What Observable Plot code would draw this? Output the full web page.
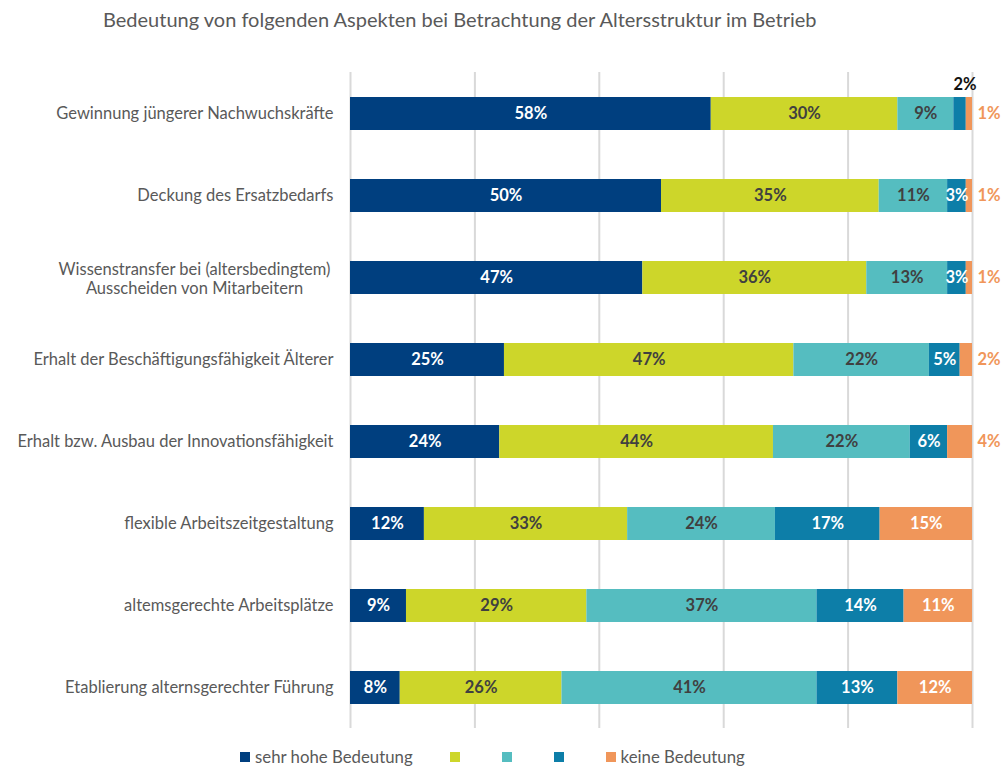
<!DOCTYPE html>
<html><head><meta charset="utf-8">
<script src="https://cdn.jsdelivr.net/npm/d3@7"></script>
<script src="https://cdn.jsdelivr.net/npm/@observablehq/plot@0.6"></script>
<style>
body{margin:0;background:#fff;font-family:Lato,"Open Sans",sans-serif;}
#wrap{position:relative;width:1006px;height:767px;overflow:hidden;}
#title{position:absolute;left:103px;top:7px;font-size:20px;color:#595959;white-space:nowrap;}
#legend{position:absolute;left:240px;top:746px;display:flex;align-items:center;font-size:16.8px;color:#595959;white-space:nowrap;}
#legend .item{display:flex;align-items:center;margin-right:37px;}
#legend .sw{width:10px;height:10px;margin-right:5px;}
#chart{position:absolute;left:0;top:0;}
</style></head>
<body>
<div id="wrap">
  <div id="chart"></div>
  <div id="title">Bedeutung von folgenden Aspekten bei Betrachtung der Altersstruktur im Betrieb</div>
  <div id="legend"></div>
</div>
<script>
const categories = [
  "Gewinnung jüngerer Nachwuchskräfte",
  "Deckung des Ersatzbedarfs",
  "Wissenstransfer bei (altersbedingtem) Ausscheiden von Mitarbeitern",
  "Erhalt der Beschäftigungsfähigkeit Älterer",
  "Erhalt bzw. Ausbau der Innovationsfähigkeit",
  "flexible Arbeitszeitgestaltung",
  "altemsgerechte Arbeitsplätze",
  "Etablierung alternsgerechter Führung"
];
const seriesNames = ["sehr hohe Bedeutung", "", "", "", "keine Bedeutung"];
const sehrHoch = [58, 50, 47, 25, 24, 12, 9, 8];
const stufe2   = [30, 35, 36, 47, 44, 33, 29, 26];
const stufe3   = [9, 11, 13, 22, 22, 24, 37, 41];
const stufe4   = [2, 3, 3, 5, 6, 17, 14, 13];
const keine    = [1, 1, 1, 2, 4, 15, 11, 12];
const xTicks = [0, 20, 40, 60, 80, 100];

const colors = ["#003f7f", "#cdd62a", "#55bdc0", "#0d7ea8", "#f0965a"];
const wrappedLabel = "Wissenstransfer bei (altersbedingtem)\nAusscheiden von Mitarbeitern";

const seriesVals = [sehrHoch, stufe2, stufe3, stufe4, keine];
const rows = [];
categories.forEach((c, i) => {
  const total = d3.sum(seriesVals, v => v[i]);
  let acc = 0;
  seriesVals.forEach((v, j) => {
    const x1 = acc / total * 100;
    acc += v[i];
    const x2 = acc / total * 100;
    rows.push({cat: c, s: j, value: v[i], x1, x2, mid: (x1 + x2) / 2});
  });
});
const isOut = d => d.s === 4 && d.value < 5;
const isAbove = d => d.s === 3 && d.value < 3;
const inside = rows.filter(d => !isOut(d) && !isAbove(d));
const fmt = d => d.value + "%";
const lblSize = 16.5;

const plot = Plot.plot({
  width: 1006,
  height: 767,
  marginLeft: 350,
  marginRight: 34,
  marginTop: 72,
  marginBottom: 39,
  style: {fontFamily: "Lato, 'Open Sans', sans-serif", background: "#fff"},
  x: {domain: [0, 100], axis: null},
  y: {domain: categories, paddingInner: 0.6, paddingOuter: 0.3, label: null},
  color: {domain: [0, 1, 2, 3, 4], range: colors},
  marks: [
    Plot.ruleX(xTicks, {stroke: "#d9d9d9", strokeWidth: 2}),
    Plot.barX(rows, {x1: "x1", x2: "x2", y: "cat", fill: "s"}),
    Plot.text(inside.filter(d => d.s === 0 || d.s === 3 || d.s === 4), {
      x: "mid", y: "cat", text: fmt, fill: "#ffffff", fontWeight: "bold", fontSize: lblSize
    }),
    Plot.text(inside.filter(d => d.s === 1 || d.s === 2), {
      x: "mid", y: "cat", text: fmt, fill: "#404040", fontWeight: "bold", fontSize: lblSize
    }),
    Plot.text(rows.filter(isOut), {
      x: () => 100, y: "cat", text: fmt, fill: "#f0965a", fontWeight: "bold", fontSize: lblSize,
      textAnchor: "start", dx: 5
    }),
    Plot.text(rows.filter(isAbove), {
      x: "mid", y: "cat", text: fmt, fill: "#111111", fontWeight: "bold", fontSize: lblSize,
      dy: -29, dx: 5
    }),
    Plot.axisY({
      tickSize: 0, tickPadding: 17, fontSize: 16.5, color: "#595959",
      tickFormat: d => d === categories[2] ? "" : d
    }),
    Plot.text([categories[2]], {
      y: d => d, frameAnchor: "left", dx: -156, textAnchor: "middle",
      text: () => wrappedLabel, fill: "#595959", fontSize: 16.5, lineHeight: 1.15
    })
  ]
});
document.getElementById("chart").appendChild(plot);

const legend = document.getElementById("legend");
seriesNames.forEach((n, i) => {
  const item = document.createElement("div");
  item.className = "item";
  const sw = document.createElement("div");
  sw.className = "sw";
  sw.style.background = colors[i];
  const lab = document.createElement("span");
  lab.textContent = n;
  item.appendChild(sw);
  item.appendChild(lab);
  legend.appendChild(item);
});
</script>
</body></html>
